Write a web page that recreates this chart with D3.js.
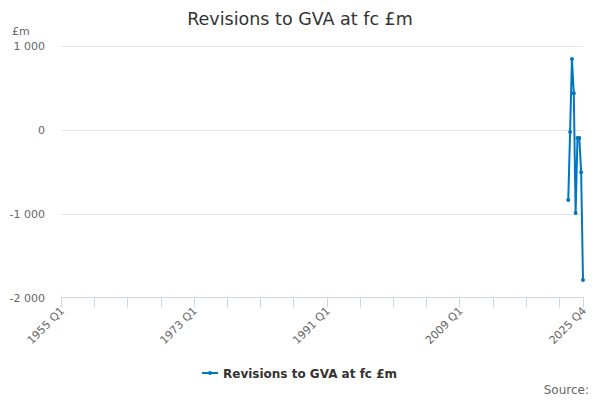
<!DOCTYPE html>
<html><head><meta charset="utf-8">
<script src="https://cdn.jsdelivr.net/npm/d3@7"></script>
<style>body{margin:0;background:#fff;}svg{display:block;font-family:"DejaVu Sans",sans-serif;}</style>
</head><body><svg id="c" width="600" height="400"></svg>
<script>
const startYear = 1955, endYear = 2025;
const quarters = [];
for (let yr = startYear; yr <= endYear; yr++) for (let q = 1; q <= 4; q++) quarters.push(yr + " Q" + q);
const seriesName = "Revisions to GVA at fc £m";
const dataQuarters = ["2023 Q4","2024 Q1","2024 Q2","2024 Q3","2024 Q4","2025 Q1","2025 Q2","2025 Q3","2025 Q4"];
const dataValues = [-839, -30, 839, 431, -995, -100, -100, -510, -1792];
const yTicks = [-2000, -1000, 0, 1000];
const xLabelTicks = ["1955 Q1","1973 Q1","1991 Q1","2009 Q1","2025 Q4"];

(function () {
const svg = d3.select("#c");
const pLeft = 61, pRight = 583, pTop = 45.5, pBottom = 297.5;
const x = d3.scalePoint().domain(quarters).range([pLeft, pRight]);
const y = d3.scaleLinear().domain([-2000, 1000]).range([pBottom, pTop]);
const fmt = v => d3.format(",")(v).replace(/,/g, " ").replace("\u2212", "-");

svg.append("text").attr("x", 300).attr("y", 25).attr("text-anchor", "middle")
  .attr("font-size", 17.5).attr("fill", "#333").text("Revisions to GVA at fc £m");
svg.append("text").attr("x", 12).attr("y", 35).attr("font-size", 11).attr("fill", "#666").text("£m");

svg.append("g").selectAll("line").data(yTicks.filter(d => d !== -2000)).join("line")
  .attr("x1", pLeft).attr("x2", pRight).attr("y1", d => Math.round(y(d)) + 0.5).attr("y2", d => Math.round(y(d)) + 0.5)
  .attr("stroke", "#e6e6e6");
svg.append("g").selectAll("text").data(yTicks).join("text")
  .attr("x", 45).attr("y", d => y(d) + 4).attr("text-anchor", "end")
  .attr("font-size", 11).attr("fill", "#666").text(fmt);

const tickIdx = d3.range(0, quarters.length, 18).concat([quarters.length - 1]);
const ax = svg.append("g").attr("transform", `translate(0,${pBottom})`);
ax.append("line").attr("x1", pLeft).attr("x2", pRight + 1).attr("stroke", "#ccd6eb");
ax.selectAll("line.t").data(tickIdx).join("line").attr("class", "t")
  .attr("x1", i => Math.round(x(quarters[i])) + 0.5).attr("x2", i => Math.round(x(quarters[i])) + 0.5)
  .attr("y1", 0).attr("y2", 10).attr("stroke", "#ccd6eb");
ax.selectAll("text").data(xLabelTicks).join("text")
  .attr("transform", d => `translate(${x(d) + 4},${14}) rotate(-45)`)
  .attr("text-anchor", "end").attr("font-size", 11).attr("fill", "#666").text(d => d);

const pts = dataQuarters.map((q, i) => ({q, v: dataValues[i]}));
const color = "#0077c0";
svg.append("path").datum(pts)
  .attr("d", d3.line().x(d => x(d.q)).y(d => y(d.v)))
  .attr("fill", "none").attr("stroke", color).attr("stroke-width", 2).attr("stroke-linejoin", "round");
svg.append("g").selectAll("circle").data(pts).join("circle")
  .attr("cx", d => x(d.q)).attr("cy", d => y(d.v)).attr("r", 2).attr("fill", color);

const lg = svg.append("g").attr("transform", "translate(202,373)");
lg.append("line").attr("x1", 0).attr("x2", 16).attr("stroke", color).attr("stroke-width", 2);
lg.append("circle").attr("cx", 8).attr("r", 2).attr("fill", color);
lg.append("text").attr("x", 21).attr("y", 5).attr("font-size", 12).attr("font-weight", "bold")
  .attr("fill", "#333").text(seriesName);

svg.append("text").attr("x", 589).attr("y", 394).attr("text-anchor", "end")
  .attr("font-size", 12).attr("fill", "#666").text("Source:");
})();
</script></body></html>
